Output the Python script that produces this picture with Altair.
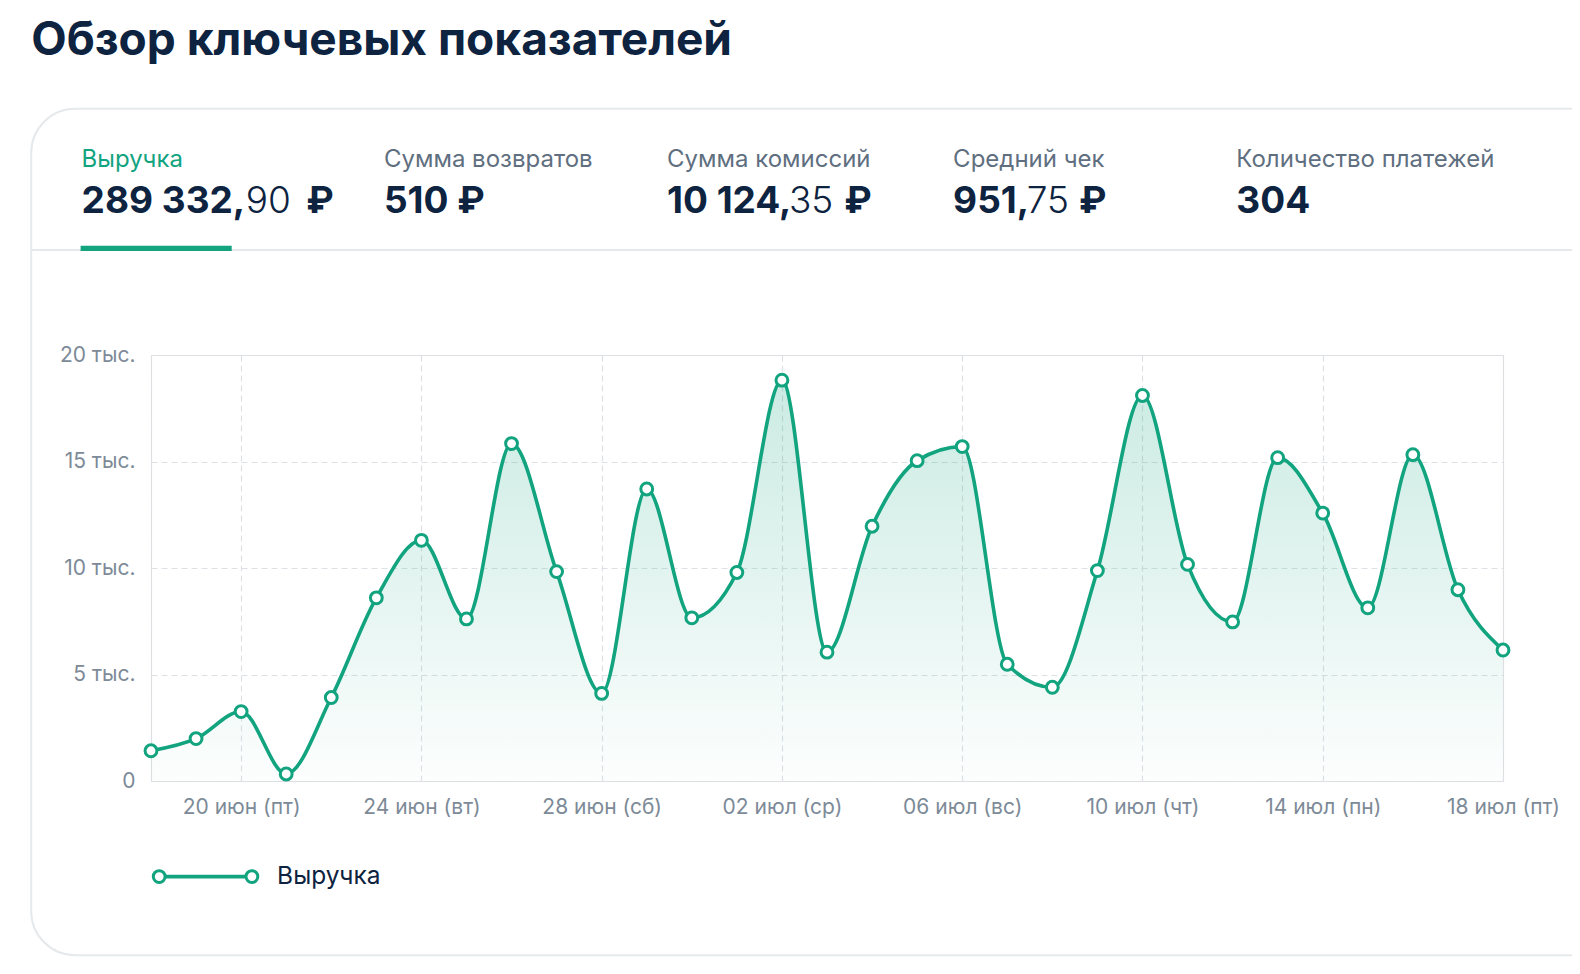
import datetime as dt

import altair as alt
import pandas as pd

# --- data ---------------------------------------------------------------
start_date = "2025-06-18"
revenue = [
    1420, 1990, 3260, 330, 3920, 8600, 11300, 7610, 15840, 9830,
    4110, 13710, 7660, 9790, 18820, 6050, 11960, 15040, 15700, 5480,
    4400, 9880, 18100, 10170, 7470, 15180, 12580, 8130, 15320, 8980,
    6150,
]
month_names = ["янв", "фев", "мар", "апр", "мая", "июн",
               "июл", "авг", "сен", "окт", "ноя", "дек"]
weekday_names = ["пн", "вт", "ср", "чт", "пт", "сб", "вс"]

kpi_labels = ["Выручка", "Сумма возвратов", "Сумма комиссий",
              "Средний чек", "Количество платежей"]
# value split in (bold part, light part, bold suffix)
kpi_values = [
    ("289 332,", "90", "₽"),
    ("510 ₽", "", ""),
    ("10 124,", "35", "₽"),
    ("951,", "75", "₽"),
    ("304", "", ""),
]
title_text = "Обзор ключевых показателей"
legend_text = "Выручка"

# --- derived table -------------------------------------------------------
d0 = dt.date.fromisoformat(start_date)
days = [d0 + dt.timedelta(days=i) for i in range(len(revenue))]
day_labels = [
    f"{d.day:02d} {month_names[d.month - 1]} ({weekday_names[d.weekday()]})"
    for d in days
]
df = pd.DataFrame({"day": day_labels, "revenue": revenue})
tick_values = [day_labels[0]] + day_labels[2::4]

GREEN = "#12a37f"
NAVY = "#0d2340"
GREY = "#5f6f7f"
AXIS_GREY = "#7d8a97"
FONT = "Inter"

# layout helpers: the page comes out slightly shrunk, so work in scaled px
S = 1 / 0.9925
PAD_L, PAD_T = 143, 347
PLOT_W, PLOT_H = 1352, 426


def px(x):
    return round(x * S - 8 - PAD_L, 1)


def py(y):
    return round(y * S - 8 - PAD_T, 1)


one = pd.DataFrame({"k": [0]})

# --- chart body ----------------------------------------------------------
grid_style = dict(gridColor="#dde1e5", gridDash=[6, 4], gridWidth=1.2)

x_enc = alt.X(
    "day:N",
    sort=day_labels,
    scale=alt.Scale(type="point", padding=0, domain=day_labels),
    axis=alt.Axis(
        values=tick_values,
        title=None,
        labelExpr=f"datum.value == '{day_labels[0]}' ? '' : datum.label",
        labelAngle=0,
        labelFont=FONT,
        labelFontSize=21,
        labelColor=AXIS_GREY,
        labelPadding=15,
        ticks=False,
        domain=False,
        grid=True,
        **grid_style,
    ),
)
y_enc = alt.Y(
    "revenue:Q",
    scale=alt.Scale(domain=[0, 20000], nice=False),
    axis=alt.Axis(
        values=[0, 5000, 10000, 15000, 20000],
        title=None,
        labelExpr="datum.value == 0 ? '0' : (datum.value / 1000) + ' тыс.'",
        labelFont=FONT,
        labelFontSize=21,
        labelColor=AXIS_GREY,
        labelPadding=16,
        ticks=False,
        domain=False,
        grid=True,
        **grid_style,
    ),
)

base = alt.Chart(df)

area = base.mark_area(
    interpolate="monotone",
    color=alt.Gradient(
        gradient="linear",
        stops=[
            alt.GradientStop(color="rgba(18,163,127,0.22)", offset=0),
            alt.GradientStop(color="rgba(18,163,127,0.01)", offset=1),
        ],
        x1=0, x2=0, y1=0, y2=1,
    ),
).encode(x=x_enc, y=y_enc)

line = base.mark_line(
    interpolate="monotone", color=GREEN, strokeWidth=3.6
).encode(x="day:N", y="revenue:Q")

points = base.mark_point(
    filled=True, fill="white", stroke=GREEN, strokeWidth=3, size=140, opacity=1
).encode(x="day:N", y="revenue:Q")

# --- decoration: card, header, tabs, legend ------------------------------
card = alt.Chart(one).mark_rect(
    fill="transparent", stroke="#e6e9eb", strokeWidth=2, cornerRadius=44
).encode(
    x=alt.value(px(31)), x2=alt.value(px(1620)),
    y=alt.value(py(108)), y2=alt.value(py(948)),
)

divider = alt.Chart(one).mark_rule(color="#e6e9eb", strokeWidth=2).encode(
    x=alt.value(px(31)), x2=alt.value(px(1580)), y=alt.value(py(248))
)

underline = alt.Chart(one).mark_rect(color=GREEN).encode(
    x=alt.value(px(80)), x2=alt.value(px(230)),
    y=alt.value(py(244)), y2=alt.value(py(249)),
)

title = alt.Chart(one).mark_text(
    text=title_text, font=FONT, fontSize=46, fontWeight="bold",
    color=NAVY, align="left", baseline="alphabetic",
).encode(x=alt.value(px(31)), y=alt.value(py(55)))

layers = [card, divider, underline, title]

tab_x = [81, 381, 662, 946, 1227]
light_x = [244, None, 783, 1019, None]
suffix_x = [304, None, 838, 1071, None]
for i, lab in enumerate(kpi_labels):
    layers.append(
        alt.Chart(one).mark_text(
            text=lab, font=FONT, fontSize=24,
            color=GREEN if i == 0 else GREY,
            align="left", baseline="alphabetic",
        ).encode(x=alt.value(px(tab_x[i])), y=alt.value(py(166)))
    )
    bold, light, suffix = kpi_values[i]
    layers.append(
        alt.Chart(one).mark_text(
            text=bold, font=FONT, fontSize=37, fontWeight="bold",
            color=NAVY, align="left", baseline="alphabetic",
        ).encode(x=alt.value(px(tab_x[i])), y=alt.value(py(211)))
    )
    if light:
        layers.append(
            alt.Chart(one).mark_text(
                text=light, font=FONT, fontSize=37, fontWeight=300,
                color=NAVY, align="left", baseline="alphabetic",
            ).encode(x=alt.value(px(light_x[i])), y=alt.value(py(211)))
        )
    if suffix:
        layers.append(
            alt.Chart(one).mark_text(
                text=suffix, font=FONT, fontSize=37, fontWeight="bold",
                color=NAVY, align="left", baseline="alphabetic",
            ).encode(x=alt.value(px(suffix_x[i])), y=alt.value(py(211)))
        )

legend_line = alt.Chart(one).mark_rule(color=GREEN, strokeWidth=3.6).encode(
    x=alt.value(px(158)), x2=alt.value(px(250)), y=alt.value(py(870))
)
legend_dots = [
    alt.Chart(one).mark_point(
        filled=True, fill="white", stroke=GREEN, strokeWidth=3, size=140, opacity=1
    ).encode(x=alt.value(px(xx)), y=alt.value(py(870)))
    for xx in (158, 250)
]
legend_label = alt.Chart(one).mark_text(
    text=legend_text, font=FONT, fontSize=24.5, color=NAVY,
    align="left", baseline="middle",
).encode(x=alt.value(px(275)), y=alt.value(py(870)))

layers += [area, line, points, legend_line] + legend_dots + [legend_label]

chart = alt.layer(*layers).properties(
    width=PLOT_W,
    height=PLOT_H,
    autosize=alt.AutoSizeParams(type="none"),
    padding={"left": PAD_L, "top": PAD_T, "right": 69, "bottom": 177},
).configure_view(stroke=None).configure(background="white")

chart.save("out.html", embed_options={"renderer": "svg", "actions": False})
